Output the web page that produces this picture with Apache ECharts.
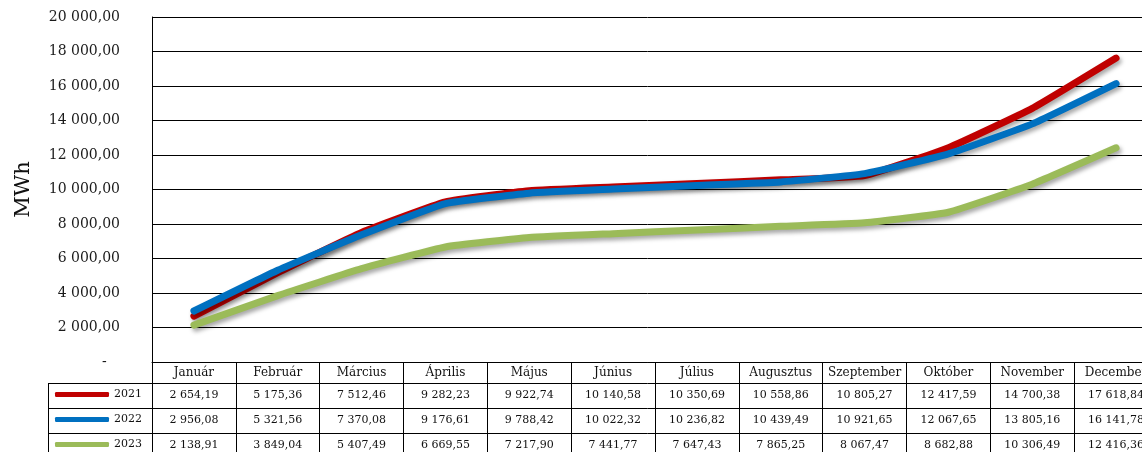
<!DOCTYPE html>
<html>
<head>
<meta charset="utf-8">
<script src="https://cdn.jsdelivr.net/npm/echarts@6/dist/echarts.min.js"></script>
<style>
html,body{margin:0;padding:0;background:#fff;}
#chart{width:1142px;height:452px;}
</style>
</head>
<body>
<div id="chart"></div>
<script>
const categories = ['Január','Február','Március','Április','Május','Június','Július','Augusztus','Szeptember','Október','November','December'];
const seriesNames = ['2021','2022','2023'];
const data2021 = [2654.19,5175.36,7512.46,9282.23,9922.74,10140.58,10350.69,10558.86,10805.27,12417.59,14700.38,17618.84];
const data2022 = [2956.08,5321.56,7370.08,9176.61,9788.42,10022.32,10236.82,10439.49,10921.65,12067.65,13805.16,16141.78];
const data2023 = [2138.91,3849.04,5407.49,6669.55,7217.90,7441.77,7647.43,7865.25,8067.47,8682.88,10306.49,12416.36];
const yMin = 0, yMax = 20000, yInterval = 2000;
const axisTitle = 'MWh';

const colors = ['#C00000','#0070C0','#9BBB59'];
const rows = [data2021, data2022, data2023];
const FONT = 'DejaVu Serif';

function fmt(v){
  const parts = v.toFixed(2).split('.');
  return parts[0].replace(/\B(?=(\d{3})+(?!\d))/g,' ') + ',' + parts[1];
}

const chart = echarts.init(document.getElementById('chart'), null, {renderer:'canvas'});

const GRID_TOP = 17, GRID_H = 345, HEADER_H = 21, ROW_H = 25;

const xAxes = [{
  type:'category', data: categories, position:'bottom', boundaryGap:true,
  axisLine:{show:true, lineStyle:{color:'#000', width:1}},
  axisTick:{show:true, length: HEADER_H + ROW_H*3 + 2, alignWithLabel:false, interval:0, lineStyle:{color:'#000', width:1}},
  axisLabel:{show:true, interval:0, margin: HEADER_H/2, verticalAlign:'middle', fontFamily:FONT, fontSize:12, color:'#111', hideOverlap:false}
}];
rows.forEach((r, k) => {
  xAxes.push({
    type:'category', data: categories, position:'bottom', offset: HEADER_H + ROW_H*k, boundaryGap:true,
    axisLine:{show:true, lineStyle:{color:'#000', width:1}},
    axisTick:{show:false},
    axisLabel:{show:true, interval:0, margin: ROW_H/2, verticalAlign:'middle', fontFamily:FONT, fontSize:11, color:'#111', hideOverlap:false,
      formatter:(val, idx) => fmt(r[idx])}
  });
});

const legendTop0 = GRID_TOP + GRID_H + HEADER_H;
const legends = seriesNames.map((n, k) => ({
  data:[n], left:55, top: legendTop0 + ROW_H*k + 6, padding:0, selectedMode:false,
  icon:'roundRect', itemWidth:54, itemHeight:5, itemGap:0,
  textStyle:{fontFamily:FONT, fontSize:11, color:'#111', padding:[0,0,0,0]}
}));

const boxLines = [];
const bx0 = 48, bx1 = 152;
for (let k=0;k<=3;k++){
  const y = legendTop0 + ROW_H*k + 0.5;
  boxLines.push({type:'line', shape:{x1:bx0, y1:y, x2:bx1, y2:y}, style:{stroke:'#000', lineWidth:1}});
}
boxLines.push({type:'line', shape:{x1:bx0+0.5, y1:legendTop0, x2:bx0+0.5, y2:legendTop0+ROW_H*3+2}, style:{stroke:'#000', lineWidth:1}});

chart.setOption({
  animation:false,
  backgroundColor:'#fff',
  color: colors,
  textStyle:{fontFamily:FONT},
  grid:{left:152, top:GRID_TOP, width:1006, height:GRID_H, outerBoundsMode:'none', containLabel:false},
  legend: legends,
  xAxis: xAxes,
  yAxis:{
    type:'value', min:yMin, max:yMax, interval:yInterval,
    name: axisTitle, nameLocation:'middle', nameGap:118, nameRotate:90,
    nameTextStyle:{fontFamily:FONT, fontSize:21, color:'#111'},
    axisLine:{show:true, lineStyle:{color:'#000', width:1}},
    axisTick:{show:false},
    splitLine:{show:true, lineStyle:{color:'#000', width:1}},
    axisLabel:{margin:32, fontFamily:FONT, fontSize:14, color:'#1a1a1a',
      formatter:(v) => v === 0 ? '-   ' : fmt(v)}
  },
  series: rows.map((r, k) => ({
    name: seriesNames[k], type:'line', data: r, xAxisIndex:0,
    smooth:0.12, showSymbol:false, symbol:'none',
    lineStyle:{width:7, color:colors[k], cap:'round', join:'round',
      shadowColor:'rgba(0,0,0,0.35)', shadowBlur:4, shadowOffsetX:2, shadowOffsetY:3},
    itemStyle:{color:colors[k]},
    emphasis:{disabled:true}
  })),
  graphic: boxLines
});
</script>
</body>
</html>
